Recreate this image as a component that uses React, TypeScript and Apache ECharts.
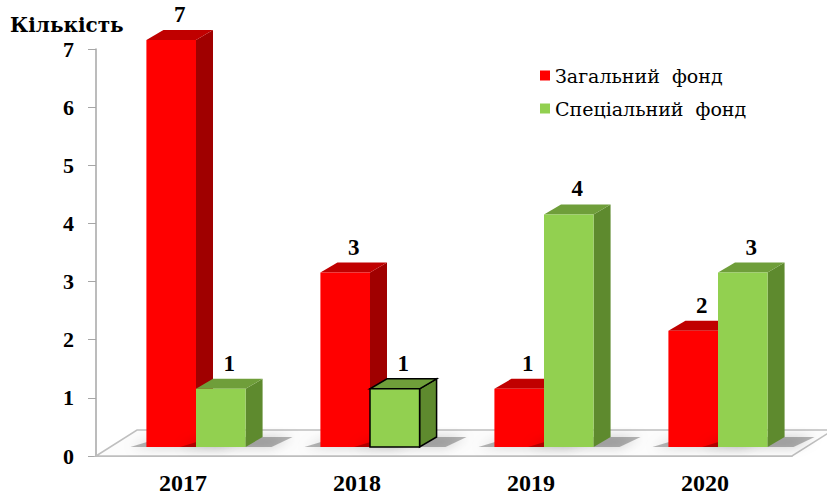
import React, { useEffect, useRef } from "react";
import * as echarts from "echarts";

const categories = ["2017", "2018", "2019", "2020"];
const generalFund = [7, 3, 1, 2];
const specialFund = [1, 1, 4, 3];
const seriesNames = ["Загальний фонд", "Спеціальний фонд"];
const yAxisTitle = "Кількість";

const FONT = "Liberation Serif";
const CYR_FONT = "DejaVu Serif";
const FLOOR_DX = 41;
const FLOOR_DY = -26;
const SHIFT_X = 13;
const SHIFT_Y = -9;
const DEPTH_X = 17;
const DEPTH_Y = -10;

function makeBarRender(sideIdx: number, front: string, topC: string, sideC: string, outlineIdx: number) {
  return (params: any, api: any) => {
    const cat = api.value(0);
    const val = api.value(1);
    const base = api.coord([cat, 0]);
    const tp = api.coord([cat, val]);
    const band = api.size([1, 0])[0];
    const bw = band * 0.285;
    const cx = base[0] + SHIFT_X;
    const x0 = sideIdx === 0 ? cx - bw : cx;
    const x1 = x0 + bw;
    const yb = base[1] + SHIFT_Y;
    const yt = tp[1] + SHIFT_Y;
    const outline = params.dataIndex === outlineIdx;
    const stroke = outline ? "#000" : undefined;
    const lw = outline ? 1.5 : 0;
    const children: any[] = [];
    children.push({
      type: "polygon",
      shape: {
        points: [
          [x0 - 16, yb],
          [x1 + 26, yb],
          [x1 + DEPTH_X + 30, yb + DEPTH_Y],
          [x0 + DEPTH_X, yb + DEPTH_Y],
        ],
      },
      style: { fill: "rgba(0,0,0,0.28)", shadowBlur: 12, shadowColor: "rgba(0,0,0,0.7)" },
    });
    children.push({
      type: "polygon",
      shape: {
        points: [
          [x1, yt],
          [x1 + DEPTH_X, yt + DEPTH_Y],
          [x1 + DEPTH_X, yb + DEPTH_Y],
          [x1, yb],
        ],
      },
      style: { fill: sideC, stroke, lineWidth: lw },
    });
    children.push({
      type: "polygon",
      shape: {
        points: [
          [x0, yt],
          [x1, yt],
          [x1 + DEPTH_X, yt + DEPTH_Y],
          [x0 + DEPTH_X, yt + DEPTH_Y],
        ],
      },
      style: { fill: topC, stroke, lineWidth: lw },
    });
    children.push({
      type: "rect",
      shape: { x: x0, y: yt, width: bw, height: yb - yt },
      style: { fill: front, stroke, lineWidth: lw },
    });
    children.push({
      type: "text",
      style: {
        text: String(val),
        x: x0 + bw / 2 + DEPTH_X / 2,
        y: yt + DEPTH_Y - 4,
        align: "center",
        verticalAlign: "bottom",
        fontFamily: FONT,
        fontWeight: "bold",
        fontSize: 23,
        fill: "#000",
      },
    });
    return { type: "group", children };
  };
}

function floorRender(params: any, api: any) {
  const cs = params.coordSys;
  const x = cs.x;
  const yb = cs.y + cs.height;
  const w = cs.width;
  return {
    type: "polygon",
    shape: {
      points: [
        [x, yb],
        [x + FLOOR_DX, yb + FLOOR_DY],
        [x + w + FLOOR_DX, yb + FLOOR_DY],
        [x + w, yb],
      ],
    },
    style: { fill: "#fcfcfc", stroke: "#bfbfbf", lineWidth: 1.5 },
  };
}

export default function App() {
  const ref = useRef<HTMLDivElement>(null);
  useEffect(() => {
    if (!ref.current) return;
    const chart = echarts.init(ref.current, undefined, { renderer: "svg" });
    chart.setOption({
      animation: false,
      backgroundColor: "#fff",
      grid: { left: 96, right: 35, top: 49, bottom: 37 },
      legend: {
        data: seriesNames,
        orient: "vertical",
        left: 535,
        top: 61,
        icon: "rect",
        itemWidth: 10,
        itemHeight: 10,
        itemGap: 14,
        formatter: (name: string) => name.replace(" ", "  "),
        textStyle: { fontFamily: CYR_FONT, fontSize: 19, color: "#000" },
      },
      graphic: [
        {
          type: "text",
          left: 10,
          top: 15,
          style: { text: yAxisTitle, fontFamily: CYR_FONT, fontWeight: "bold", fontSize: 20, fill: "#000" },
        },
      ],
      xAxis: {
        type: "category",
        data: categories,
        axisLine: { lineStyle: { color: "#a6a6a6", width: 1.5 } },
        axisTick: { length: 8, lineStyle: { color: "#a6a6a6" } },
        axisLabel: { margin: 15, fontFamily: FONT, fontWeight: "bold", fontSize: 24, color: "#000" },
      },
      yAxis: {
        type: "value",
        min: 0,
        max: 7,
        interval: 1,
        axisLine: { show: true, lineStyle: { color: "#a6a6a6", width: 1.5 } },
        axisTick: { show: true, length: 8, lineStyle: { color: "#a6a6a6" } },
        splitLine: { show: false },
        axisLabel: { margin: 22, fontFamily: FONT, fontWeight: "bold", fontSize: 22, color: "#000" },
      },
      series: [
        {
          type: "custom",
          renderItem: floorRender,
          data: [[0, 0]],
          silent: true,
          z: 1,
        },
        {
          type: "custom",
          name: seriesNames[0],
          itemStyle: { color: "#FF0000" },
          renderItem: makeBarRender(0, "#FF0000", "#C00000", "#A00000", -1),
          data: generalFund.map((v, i) => [i, v]),
          encode: { x: 0, y: 1 },
          z: 2,
        },
        {
          type: "custom",
          name: seriesNames[1],
          itemStyle: { color: "#92D050" },
          renderItem: makeBarRender(1, "#92D050", "#6F9E3A", "#5E8A2E", 1),
          data: specialFund.map((v, i) => [i, v]),
          encode: { x: 0, y: 1 },
          z: 3,
        },
      ],
    });
    return () => chart.dispose();
  }, []);
  return (
    <div
      ref={ref}
      style={{ position: "fixed", left: 0, top: 0, width: 827, height: 495 }}
    />
  );
}
